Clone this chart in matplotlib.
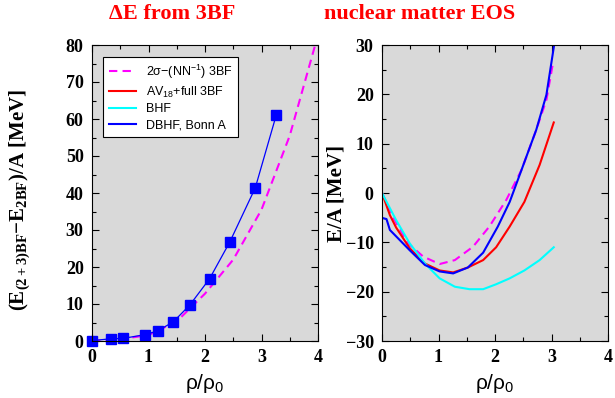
import numpy as np
import matplotlib
matplotlib.use("Agg")
import matplotlib.pyplot as plt
from matplotlib.ticker import MultipleLocator

plt.rcParams['mathtext.fontset'] = 'custom'
plt.rcParams['mathtext.rm'] = 'Liberation Sans'
plt.rcParams['mathtext.it'] = 'Liberation Sans:italic'
plt.rcParams['mathtext.bf'] = 'Liberation Serif:bold'

# left panel: Delta E from 3BF
dbhf_rho = [0.0, 0.33, 0.55, 0.93, 1.16, 1.44, 1.73, 2.08, 2.44, 2.89, 3.26]
dbhf_dE = [0.1, 0.6, 0.7, 1.7, 2.7, 5.2, 9.7, 16.8, 26.8, 41.4, 61.0]
sig_rho = [0.0, 0.5, 1.0, 1.5, 2.0, 2.5, 3.0, 3.5, 3.95]
sig_dE = [0.0, 0.5, 1.6, 5.3, 12.8, 22.0, 35.5, 55.5, 80.0]

# right panel: nuclear matter EOS
sig_x = [0.0, 0.2, 0.46, 0.73, 1.02, 1.29, 1.61, 1.9, 2.2, 2.47, 2.73, 2.91, 3.03]
sig_y = [0.0, -5.0, -10.2, -12.9, -14.4, -13.6, -10.9, -6.8, -1.4, 4.7, 12.8, 18.9, 26.6]
av18_x = [0.0, 0.14, 0.25, 0.49, 0.76, 1.02, 1.26, 1.52, 1.79, 2.02, 2.26, 2.52, 2.79, 3.04]
av18_y = [0.0, -4.5, -7.0, -11.2, -14.3, -15.7, -16.1, -15.1, -13.6, -11.0, -6.8, -1.8, 5.7, 14.3]
bhf_x = [0.0, 0.25, 0.49, 0.76, 1.02, 1.29, 1.55, 1.79, 2.02, 2.26, 2.52, 2.79, 3.04]
bhf_y = [0.0, -5.5, -10.2, -14.3, -17.3, -19.0, -19.5, -19.5, -18.5, -17.3, -15.7, -13.6, -11.0]
bonn_x = [0.02, 0.08, 0.14, 0.2, 0.49, 0.76, 1.02, 1.26, 1.52, 1.79, 2.05, 2.26, 2.47, 2.73, 2.91, 3.06]
bonn_y = [-5.1, -5.3, -7.5, -8.2, -11.6, -14.6, -15.9, -16.3, -15.1, -12.1, -6.8, -1.8, 4.7, 12.8, 19.9, 31.0]

x_ticks = [0, 1, 2, 3, 4]
left_yticks = list(range(0, 81, 10))
right_yticks = list(range(-30, 31, 10))

fig = plt.figure(figsize=(6.15, 3.98), dpi=100)
ax1 = fig.add_axes([92/615, 57/398, 226/615, 296/398])
ax2 = fig.add_axes([382/615, 57/398, 226/615, 296/398])

tickfont = dict(family='Liberation Serif', weight='bold', size=13)

for ax in (ax1, ax2):
    ax.set_facecolor('#d9d9d9')
    ax.set_xlim(0, 4)
    ax.set_xticks(x_ticks)
    ax.set_xticklabels([str(v) for v in x_ticks], fontdict=tickfont)
    ax.xaxis.set_minor_locator(MultipleLocator(0.5))
    ax.yaxis.set_minor_locator(MultipleLocator(5))
    ax.tick_params(which='both', direction='in', top=True, right=True, width=0.8)
    ax.tick_params(which='major', length=5, pad=6)
    ax.tick_params(which='minor', length=3)
    ax.set_xlabel('\u03c1/\u03c1$_0$', fontsize=15, family='Liberation Sans', labelpad=4)

ax1.set_ylim(0, 80)
ax2.set_ylim(-30, 30)
ax1.set_yticks(left_yticks)
ax1.set_yticklabels([str(v) for v in left_yticks], fontdict=tickfont)
ax2.set_yticks(right_yticks)
ax2.set_yticklabels([str(v).replace('-', '\u2212') for v in right_yticks], fontdict=tickfont)

# left panel curves
ax1.plot(sig_rho, sig_dE, color='#ff00ff', lw=1.5, ls=(0, (4, 2.5)), label='2\u03c3\u2212(NN$^{-1}$) 3BF')
ax1.plot([], [], color='red', lw=1.5, label='AV$_{18}$+full 3BF')
ax1.plot([], [], color='cyan', lw=1.5, label='BHF')
ax1.plot(dbhf_rho, dbhf_dE, color='blue', lw=0.9, marker='s', ms=7.5, clip_on=False)
ax1.plot([], [], color='blue', lw=1.5, label='DBHF, Bonn A')
leg = ax1.legend(loc='upper left', bbox_to_anchor=(11/226, 1 - 12/296), borderaxespad=0,
                 fancybox=False, framealpha=1, edgecolor='black',
                 prop=dict(family='Liberation Sans', size=9),
                 borderpad=0.45, labelspacing=0.3, handlelength=2.2)
leg.get_frame().set_linewidth(0.8)

# right panel curves
ax2.plot(sig_x, sig_y, color='#ff00ff', lw=1.5, ls=(0, (4, 2.5)))
ax2.plot(av18_x, av18_y, color='red', lw=1.5)
ax2.plot(bhf_x, bhf_y, color='cyan', lw=1.5)
ax2.plot(bonn_x, bonn_y, color='blue', lw=1.5)

fig.text(20/615, 1 - 200/398, '(E$_{\\mathbf{(2+3)BF}}$\u2212E$_{\\mathbf{2BF}}$)/A [MeV]',
         rotation=90, ha='center', va='center', family='Liberation Serif', weight='bold', fontsize=15)
fig.text(337/615, 1 - 193/398, 'E/A [MeV]', rotation=90, ha='center', va='center',
         family='Liberation Serif', weight='bold', fontsize=15)
fig.text(172/615, 1 - 14/398, '\u0394E from 3BF', ha='center', va='center', color='red',
         family='Liberation Serif', weight='bold', fontsize=16)
fig.text(420/615, 1 - 14/398, 'nuclear matter EOS', ha='center', va='center', color='red',
         family='Liberation Serif', weight='bold', fontsize=16)

fig.savefig('out.png', dpi=100)
